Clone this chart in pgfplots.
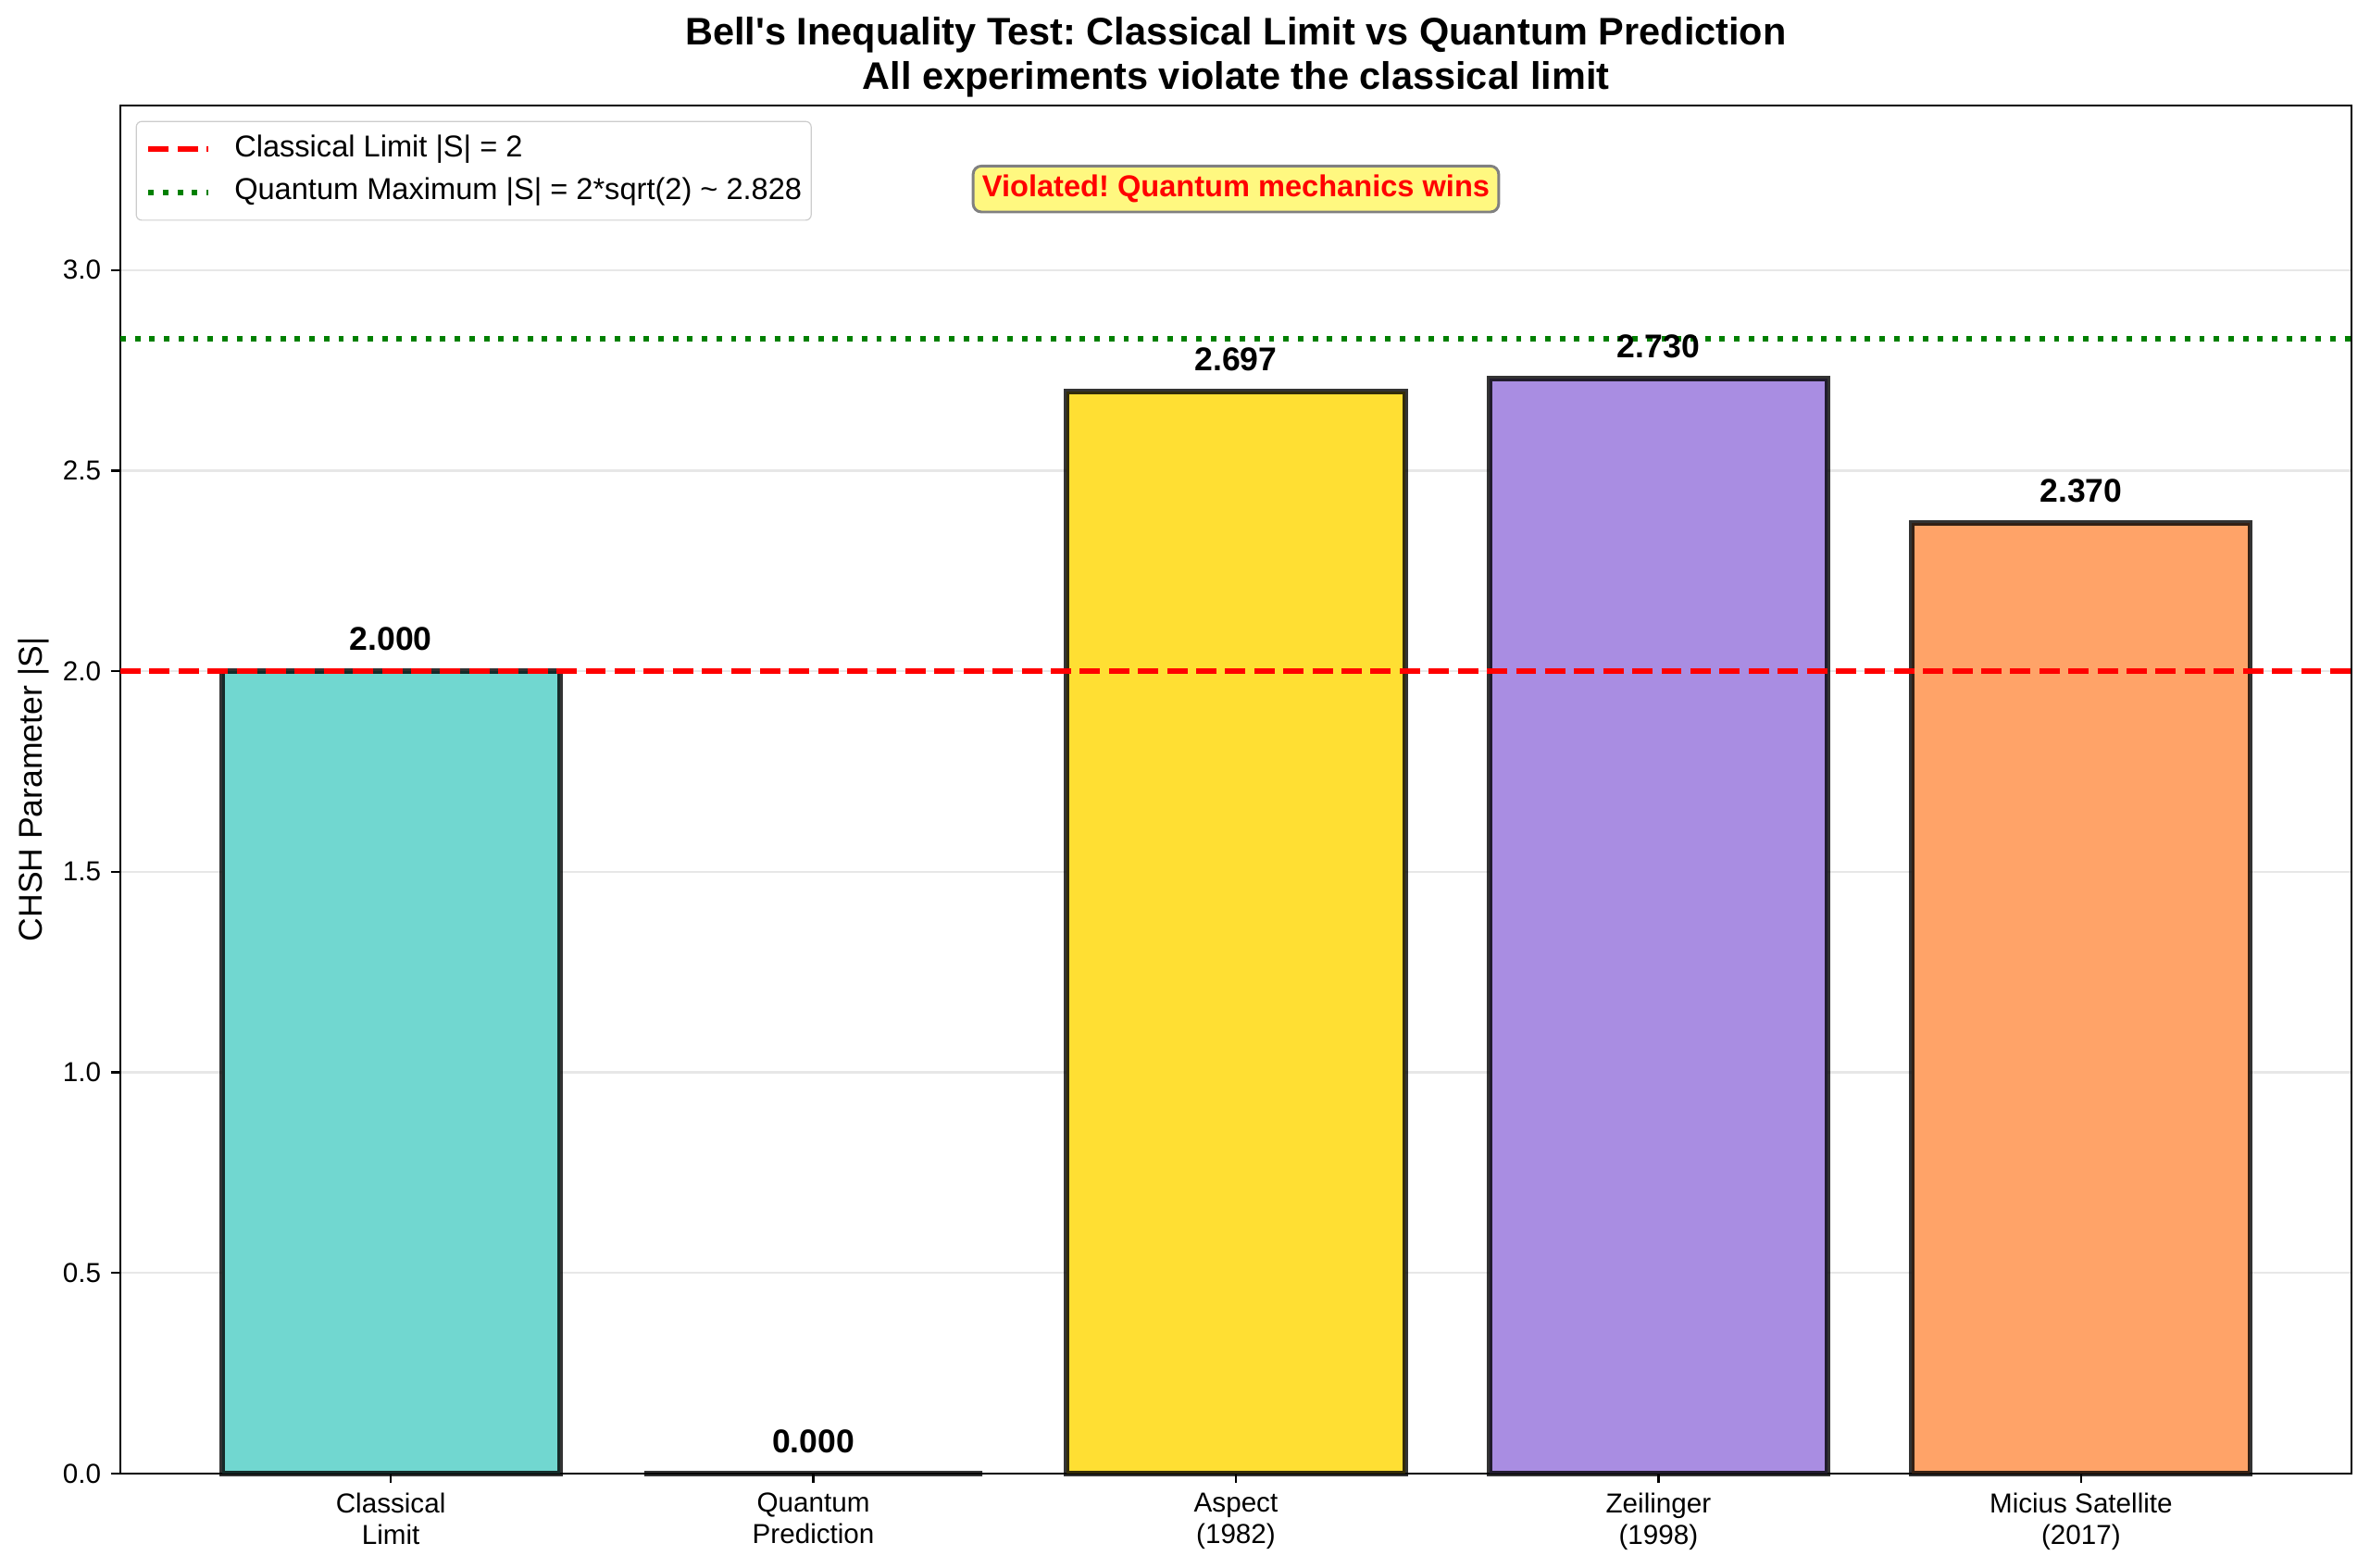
\documentclass[border=0pt]{standalone}
\usepackage{fontspec}
\setmainfont{Liberation Sans}
\usepackage{pgfplots}
\pgfplotsset{compat=1.18}
\frenchspacing

% bar fills (base colours at 80% over white)
\definecolor{cTeal}{RGB}{113,215,208}
\definecolor{cCoral}{RGB}{255,137,137}
\definecolor{cGold}{RGB}{255,223,51}
\definecolor{cPurple}{RGB}{169,141,226}
\definecolor{cOrange}{RGB}{255,163,104}
\definecolor{cGreen}{RGB}{0,128,0}
\definecolor{cGrid}{RGB}{231,231,231}

\begin{document}
\begin{tikzpicture}
\useasboundingbox (-43.875pt,-34.4pt) rectangle (820.15pt,537.3pt);
\begin{axis}[
  at={(0pt,0pt)}, anchor=south west,
  width=813.4pt, height=498.8pt, scale only axis,
  xmin=-0.64, xmax=4.64, ymin=0, ymax=3.41,
  clip=false,
  axis line style={line width=0.8pt},
  tick align=outside, major tick length=3.5pt,
  xtick pos=bottom, ytick pos=left,
  tick style={line width=0.8pt, black},
  xtick={0,1,2,3,4},
  xticklabels={Classical\\Limit, Quantum\\Prediction, Aspect\\(1982), Zeilinger\\(1998), Micius Satellite\\(2017)},
  xticklabel style={align=center, font=\fontsize{10}{11.5}\selectfont},
  ytick={0,0.5,1,1.5,2,2.5,3},
  yticklabel style={font=\fontsize{10}{12}\selectfont,
    /pgf/number format/.cd, fixed, fixed zerofill, precision=1, assume math mode=true},
  ymajorgrids, grid style={line width=0.8pt, color=cGrid},
  ylabel={CHSH Parameter |S|},
  ylabel style={font=\fontsize{12}{14}\selectfont, at={(axis description cs:-0.039,0.5)}, anchor=center},
  legend style={at={(0,1)}, anchor=north west, xshift=5.6pt, yshift=-5.6pt,
    draw=black!20, fill=white, fill opacity=0.8, text opacity=1, rounded corners=2pt,
    inner xsep=3.4pt, inner ysep=4.9pt, row sep=5pt, column sep=8.4pt,
    font=\fontsize{11}{13}\selectfont,
    nodes={inner sep=0pt, text height=8pt, text depth=2.6pt}},
  legend cell align=left,
  legend image code/.code={\draw[#1] (0pt,0pt) -- (22pt,0pt);},
]
% measured CHSH values
\addplot[ybar, bar width=0.8, bar shift=0pt, fill=cTeal, draw=black, draw opacity=0.8, line width=2pt, forget plot] coordinates {(0,2.000)};
\addplot[ybar, bar width=0.8, bar shift=0pt, fill=cCoral, draw=black, draw opacity=0.8, line width=2pt, forget plot] coordinates {(1,0.000)};
\addplot[ybar, bar width=0.8, bar shift=0pt, fill=cGold, draw=black, draw opacity=0.8, line width=2pt, forget plot] coordinates {(2,2.697)};
\addplot[ybar, bar width=0.8, bar shift=0pt, fill=cPurple, draw=black, draw opacity=0.8, line width=2pt, forget plot] coordinates {(3,2.730)};
\addplot[ybar, bar width=0.8, bar shift=0pt, fill=cOrange, draw=black, draw opacity=0.8, line width=2pt, forget plot] coordinates {(4,2.370)};

% reference limits
\addplot[red, line width=2pt, dash pattern=on 7.4pt off 3.2pt] coordinates {(-0.64,2) (4.64,2)};
\addlegendentry{Classical Limit |S| = 2}
\addplot[cGreen, line width=2pt, dash pattern=on 2pt off 3.3pt] coordinates {(-0.64,2.828) (4.64,2.828)};
\addlegendentry{Quantum Maximum |S| = 2*sqrt(2) \textasciitilde{} 2.828}

% value labels above the bars
\addplot[draw=none, forget plot, point meta=y,
  nodes near coords={\pgfmathprintnumber[fixed,fixed zerofill,precision=3,assume math mode=true]{\pgfplotspointmeta}},
  every node near coord/.append style={anchor=south, inner sep=0pt, yshift=7.3pt,
    font=\bfseries\fontsize{12}{14}\selectfont, text=black}]
  coordinates {(0,2.000) (1,0.000) (2,2.697) (3,2.730) (4,2.370)};

\node[font=\bfseries\fontsize{11}{13}\selectfont, text=red, fill=yellow!50, draw=black!50,
  rounded corners=3pt, inner sep=3.3pt, line width=1pt] at (rel axis cs:0.5,0.939)
  {Violated! Quantum mechanics wins};

\node[anchor=base, font=\bfseries\fontsize{14}{16}\selectfont] at ([yshift=6pt]rel axis cs:0.5,1)
  {All experiments violate the classical limit};
\node[anchor=base, font=\bfseries\fontsize{14}{16}\selectfont] at ([yshift=22pt]rel axis cs:0.5,1)
  {Bell\textquotesingle s Inequality Test: Classical Limit vs Quantum Prediction};
\end{axis}
\end{tikzpicture}
\end{document}
